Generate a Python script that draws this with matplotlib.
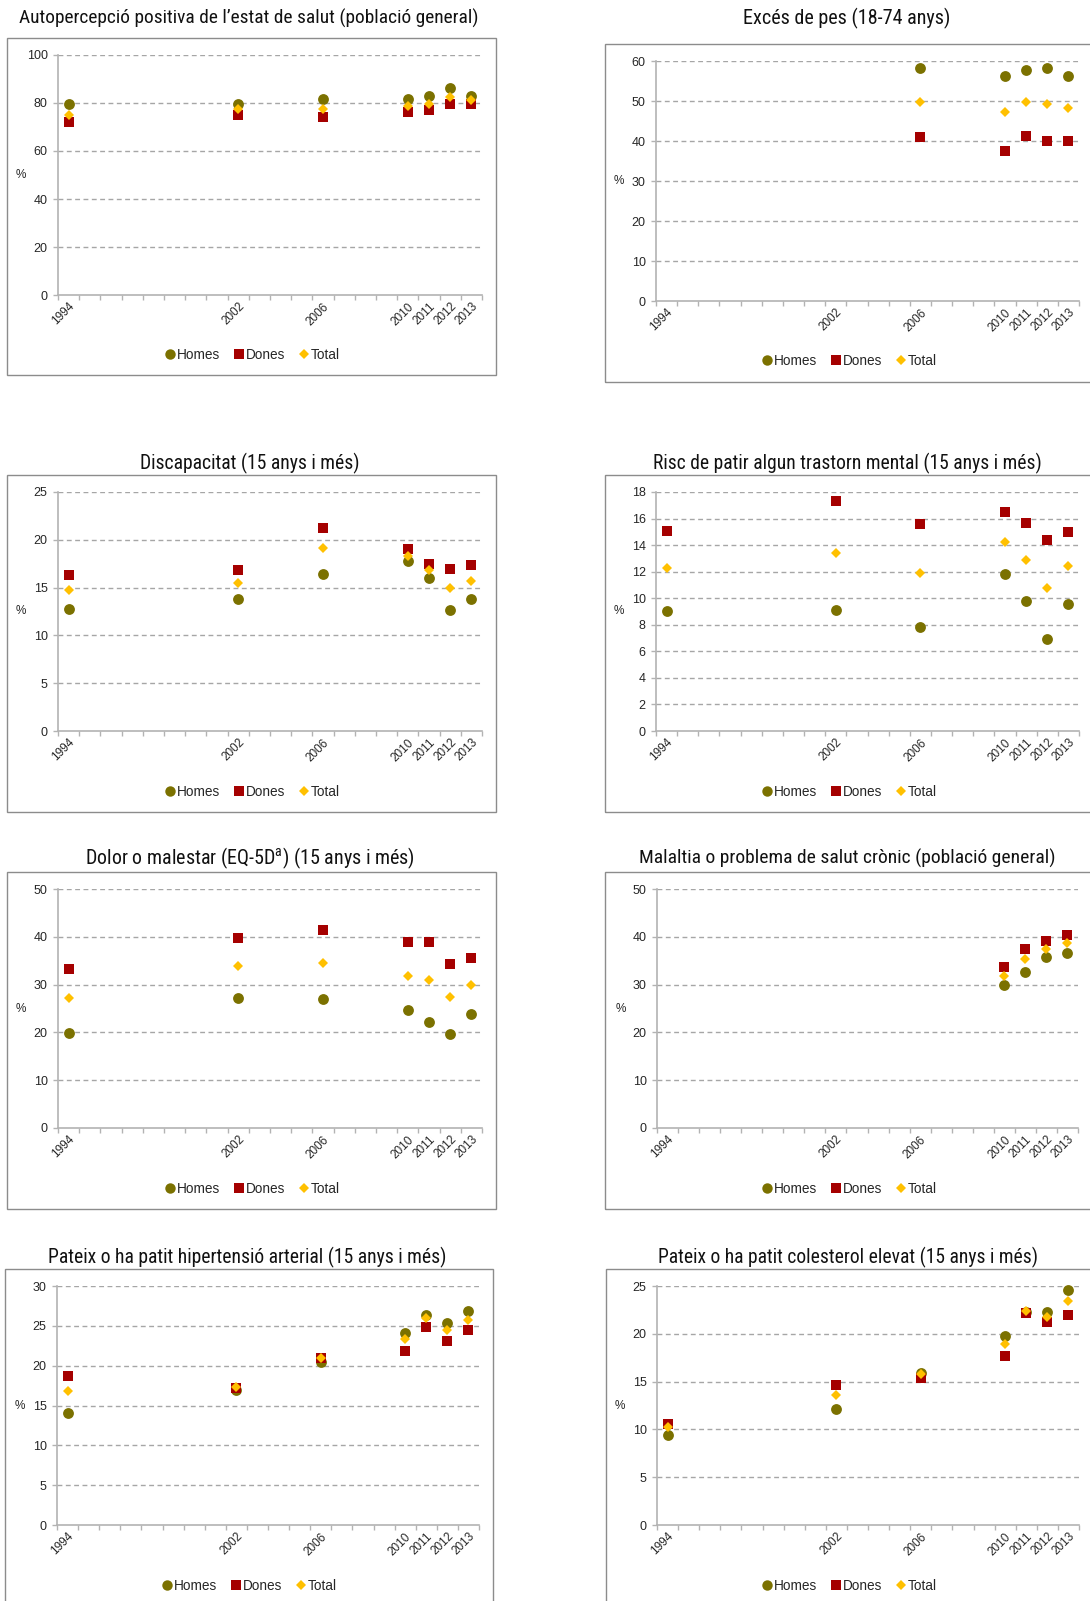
import matplotlib
matplotlib.use("Agg")
import matplotlib.pyplot as plt
from matplotlib.patches import Rectangle
from matplotlib.lines import Line2D
from matplotlib import font_manager

plt.rcParams['font.family'] = ['Liberation Sans', 'DejaVu Sans']

W, H = 1090, 1601

# ---------------- data ----------------
years_all = [1994, 2002, 2006, 2010, 2011, 2012, 2013]
years_late = [2006, 2010, 2011, 2012, 2013]
years_chronic = [2010, 2011, 2012, 2013]
tick_years = [1994, 2002, 2006, 2010, 2011, 2012, 2013]

titles = [
    "Autopercepció positiva de l\u2019estat de salut (població general)",
    "Excés de pes (18-74 anys)",
    "Discapacitat (15 anys i més)",
    "Risc de patir algun trastorn mental (15 anys i més)",
    r"Dolor o malestar (EQ-5D$^{\mathrm{a}}$) (15 anys i més)",
    "Malaltia o problema de salut crònic (població general)",
    "Pateix o ha patit hipertensió arterial (15 anys i més)",
    "Pateix o ha patit colesterol elevat (15 anys i més)",
]

# 1 Autopercepció
salut_homes = [79.6, 79.7, 81.5, 81.6, 82.8, 86.2, 83.0]
salut_dones = [71.9, 74.8, 74.3, 76.1, 77.0, 79.4, 79.5]
salut_total = [75.2, 77.3, 77.6, 78.7, 79.7, 82.5, 81.2]
# 2 Excés de pes
pes_homes = [58.3, 56.3, 57.8, 58.2, 56.2]
pes_dones = [40.9, 37.5, 41.3, 39.9, 40.1]
pes_total = [49.8, 47.2, 49.8, 49.2, 48.3]
# 3 Discapacitat
disc_homes = [12.8, 13.8, 16.4, 17.8, 16.0, 12.7, 13.8]
disc_dones = [16.3, 16.8, 21.2, 19.0, 17.5, 16.9, 17.4]
disc_total = [14.8, 15.5, 19.1, 18.3, 16.8, 15.0, 15.7]
# 4 Risc trastorn mental
ment_homes = [9.0, 9.1, 7.8, 11.8, 9.8, 6.9, 9.6]
ment_dones = [15.1, 17.3, 15.6, 16.5, 15.7, 14.4, 15.0]
ment_total = [12.3, 13.4, 11.9, 14.2, 12.9, 10.8, 12.4]
# 5 Dolor o malestar
dolor_homes = [19.8, 27.1, 27.0, 24.7, 22.2, 19.6, 23.9]
dolor_dones = [33.2, 39.8, 41.4, 38.9, 38.9, 34.4, 35.6]
dolor_total = [27.3, 33.9, 34.6, 31.9, 30.9, 27.4, 30.0]
# 6 Malaltia crònica
cron_homes = [30.0, 32.7, 35.7, 36.6]
cron_dones = [33.7, 37.5, 39.2, 40.3]
cron_total = [31.9, 35.3, 37.5, 38.7]
# 7 Hipertensió
hta_homes = [14.1, 16.9, 20.4, 24.1, 26.4, 25.4, 26.9]
hta_dones = [18.7, 17.2, 20.9, 21.9, 24.9, 23.1, 24.5]
hta_total = [16.8, 17.3, 21.0, 23.3, 26.0, 24.5, 25.7]
# 8 Colesterol
col_homes = [9.4, 12.1, 15.9, 19.8, 22.3, 22.3, 24.6]
col_dones = [10.6, 14.6, 15.4, 17.7, 22.2, 21.2, 22.0]
col_total = [10.2, 13.6, 15.8, 18.9, 22.4, 21.8, 23.4]

series_x = [years_all, years_late, years_all, years_all, years_all, years_chronic, years_all, years_all]
series_homes = [salut_homes, pes_homes, disc_homes, ment_homes, dolor_homes, cron_homes, hta_homes, col_homes]
series_dones = [salut_dones, pes_dones, disc_dones, ment_dones, dolor_dones, cron_dones, hta_dones, col_dones]
series_total = [salut_total, pes_total, disc_total, ment_total, dolor_total, cron_total, hta_total, col_total]
ymax = [100, 60, 25, 18, 50, 50, 30, 25]
ystep = [20, 10, 5, 2, 10, 10, 5, 5]

c_homes = '#7B7100'
c_dones = '#A50000'
c_total = '#FFC000'

# ---------------- layout (pixels) ----------------
ax_px = [
    (58, 482, 55, 295), (656, 1079, 61, 301),
    (58, 482, 492, 731), (656, 1079, 492, 731),
    (58, 482, 889, 1128), (657, 1078, 889, 1128),
    (57, 479, 1286, 1525), (657, 1079, 1286, 1525),
]
box_px = [
    (7, 38, 496, 375), (605, 44, 1100, 382),
    (7, 475, 496, 812), (605, 475, 1100, 812),
    (7, 872, 496, 1209), (605, 872, 1100, 1209),
    (5, 1269, 493, 1620), (606, 1269, 1100, 1620),
]
title_px = [
    (249, 18), (847, 18), (250, 463), (847, 463),
    (250, 858), (847, 858), (247, 1257), (848, 1257),
]
title_w = [461, 208, 220, 389, 330, 416, 399, 380]
legend_px = [
    (252, 355), (849, 361), (252, 792), (849, 792),
    (252, 1189), (849, 1189), (249, 1586), (849, 1586),
]

# pick a narrow family if one exists
title_family = 'Liberation Sans'
for cand in ['Liberation Sans Narrow', 'Roboto Condensed', 'Open Sans Condensed',
             'DejaVu Sans Condensed']:
    try:
        font_manager.findfont(font_manager.FontProperties(family=cand), fallback_to_default=False)
        title_family = cand
        break
    except Exception:
        pass
plt.rcParams['mathtext.fontset'] = 'custom'
plt.rcParams['mathtext.rm'] = title_family

fig = plt.figure(figsize=(W / 100, H / 100), dpi=100)
fig.patch.set_facecolor('white')
renderer = fig.canvas.get_renderer()

def fx(x):
    return x / W

def fy(y):
    return 1 - y / H

for i in range(8):
    bx0, by0, bx1, by1 = box_px[i]
    fig.add_artist(Rectangle((fx(bx0), fy(by1)), fx(bx1 - bx0), (by1 - by0) / H,
                             transform=fig.transFigure, facecolor='none',
                             edgecolor='#8C8C8C', linewidth=1.0, zorder=5))
    tx, ty = title_px[i]
    t = fig.text(fx(tx), fy(ty), titles[i], ha='center', va='center', fontsize=15,
                 family=[title_family, 'DejaVu Sans'], color='#111111')
    wpx = t.get_window_extent(renderer).width
    t.set_fontsize(min(16, 15 * title_w[i] / wpx))

    x0, x1, yt, yb = ax_px[i]
    ax = fig.add_axes([fx(x0), fy(yb), fx(x1 - x0), (yb - yt) / H])
    ax.set_facecolor('none')
    ax.set_xlim(1993.5, 2013.5)
    ax.set_ylim(0, ymax[i])
    yt_vals = list(range(0, ymax[i] + 1, ystep[i]))
    ax.set_yticks(yt_vals)
    ax.set_yticklabels([str(v) for v in yt_vals])
    for v in yt_vals[1:]:
        ax.axhline(v, color='#A6A6A6', linewidth=1.0, linestyle=(0, (3.5, 2.5)), zorder=1)
    for s in ['top', 'right']:
        ax.spines[s].set_visible(False)
    for s in ['left', 'bottom']:
        ax.spines[s].set_color('#B3B3B3')
        ax.spines[s].set_linewidth(1.2)
    ax.set_xticks([y + 0.5 for y in range(1993, 2014)])
    ax.set_xticklabels([])
    ax.tick_params(axis='x', which='major', direction='out', length=3.5, color='#B3B3B3', width=1)
    ax.set_xticks(tick_years, minor=True)
    ax.set_xticklabels([str(y) for y in tick_years], minor=True, rotation=45,
                       ha='right', va='top', rotation_mode='anchor', fontsize=8.5, color='#262626')
    ax.tick_params(axis='x', which='minor', length=0, pad=4)
    ax.tick_params(axis='y', direction='out', length=3.5, color='#B3B3B3', width=1,
                   labelsize=9, labelcolor='#262626', pad=4)
    ax.set_ylabel('%', rotation=0, fontsize=8.5, color='#262626', va='center', ha='center')
    ax.yaxis.set_label_coords(-0.087, 0.5)

    xs = series_x[i]
    ax.plot(xs, series_homes[i], linestyle='none', marker='o', markersize=7.8,
            color=c_homes, markeredgewidth=0, zorder=3, clip_on=False)
    ax.plot(xs, series_dones[i], linestyle='none', marker='s', markersize=7.4,
            color=c_dones, markeredgewidth=0, zorder=4, clip_on=False)
    ax.plot(xs, series_total[i], linestyle='none', marker='D', markersize=5.4,
            color=c_total, markeredgewidth=0, zorder=5, clip_on=False)

    handles = [
        Line2D([], [], linestyle='none', marker='o', markersize=7.5, color=c_homes, markeredgewidth=0),
        Line2D([], [], linestyle='none', marker='s', markersize=7.5, color=c_dones, markeredgewidth=0),
        Line2D([], [], linestyle='none', marker='D', markersize=5.5, color=c_total, markeredgewidth=0),
    ]
    lx, ly = legend_px[i]
    fig.legend(handles, ['Homes', 'Dones', 'Total'], loc='center',
               bbox_to_anchor=(fx(lx), fy(ly)), bbox_transform=fig.transFigure,
               ncol=3, frameon=False, fontsize=9.8, handlelength=0.8, handletextpad=0.1,
               columnspacing=1.0, borderpad=0, labelcolor='#262626')

fig.savefig('out.png', dpi=100, facecolor='white')
